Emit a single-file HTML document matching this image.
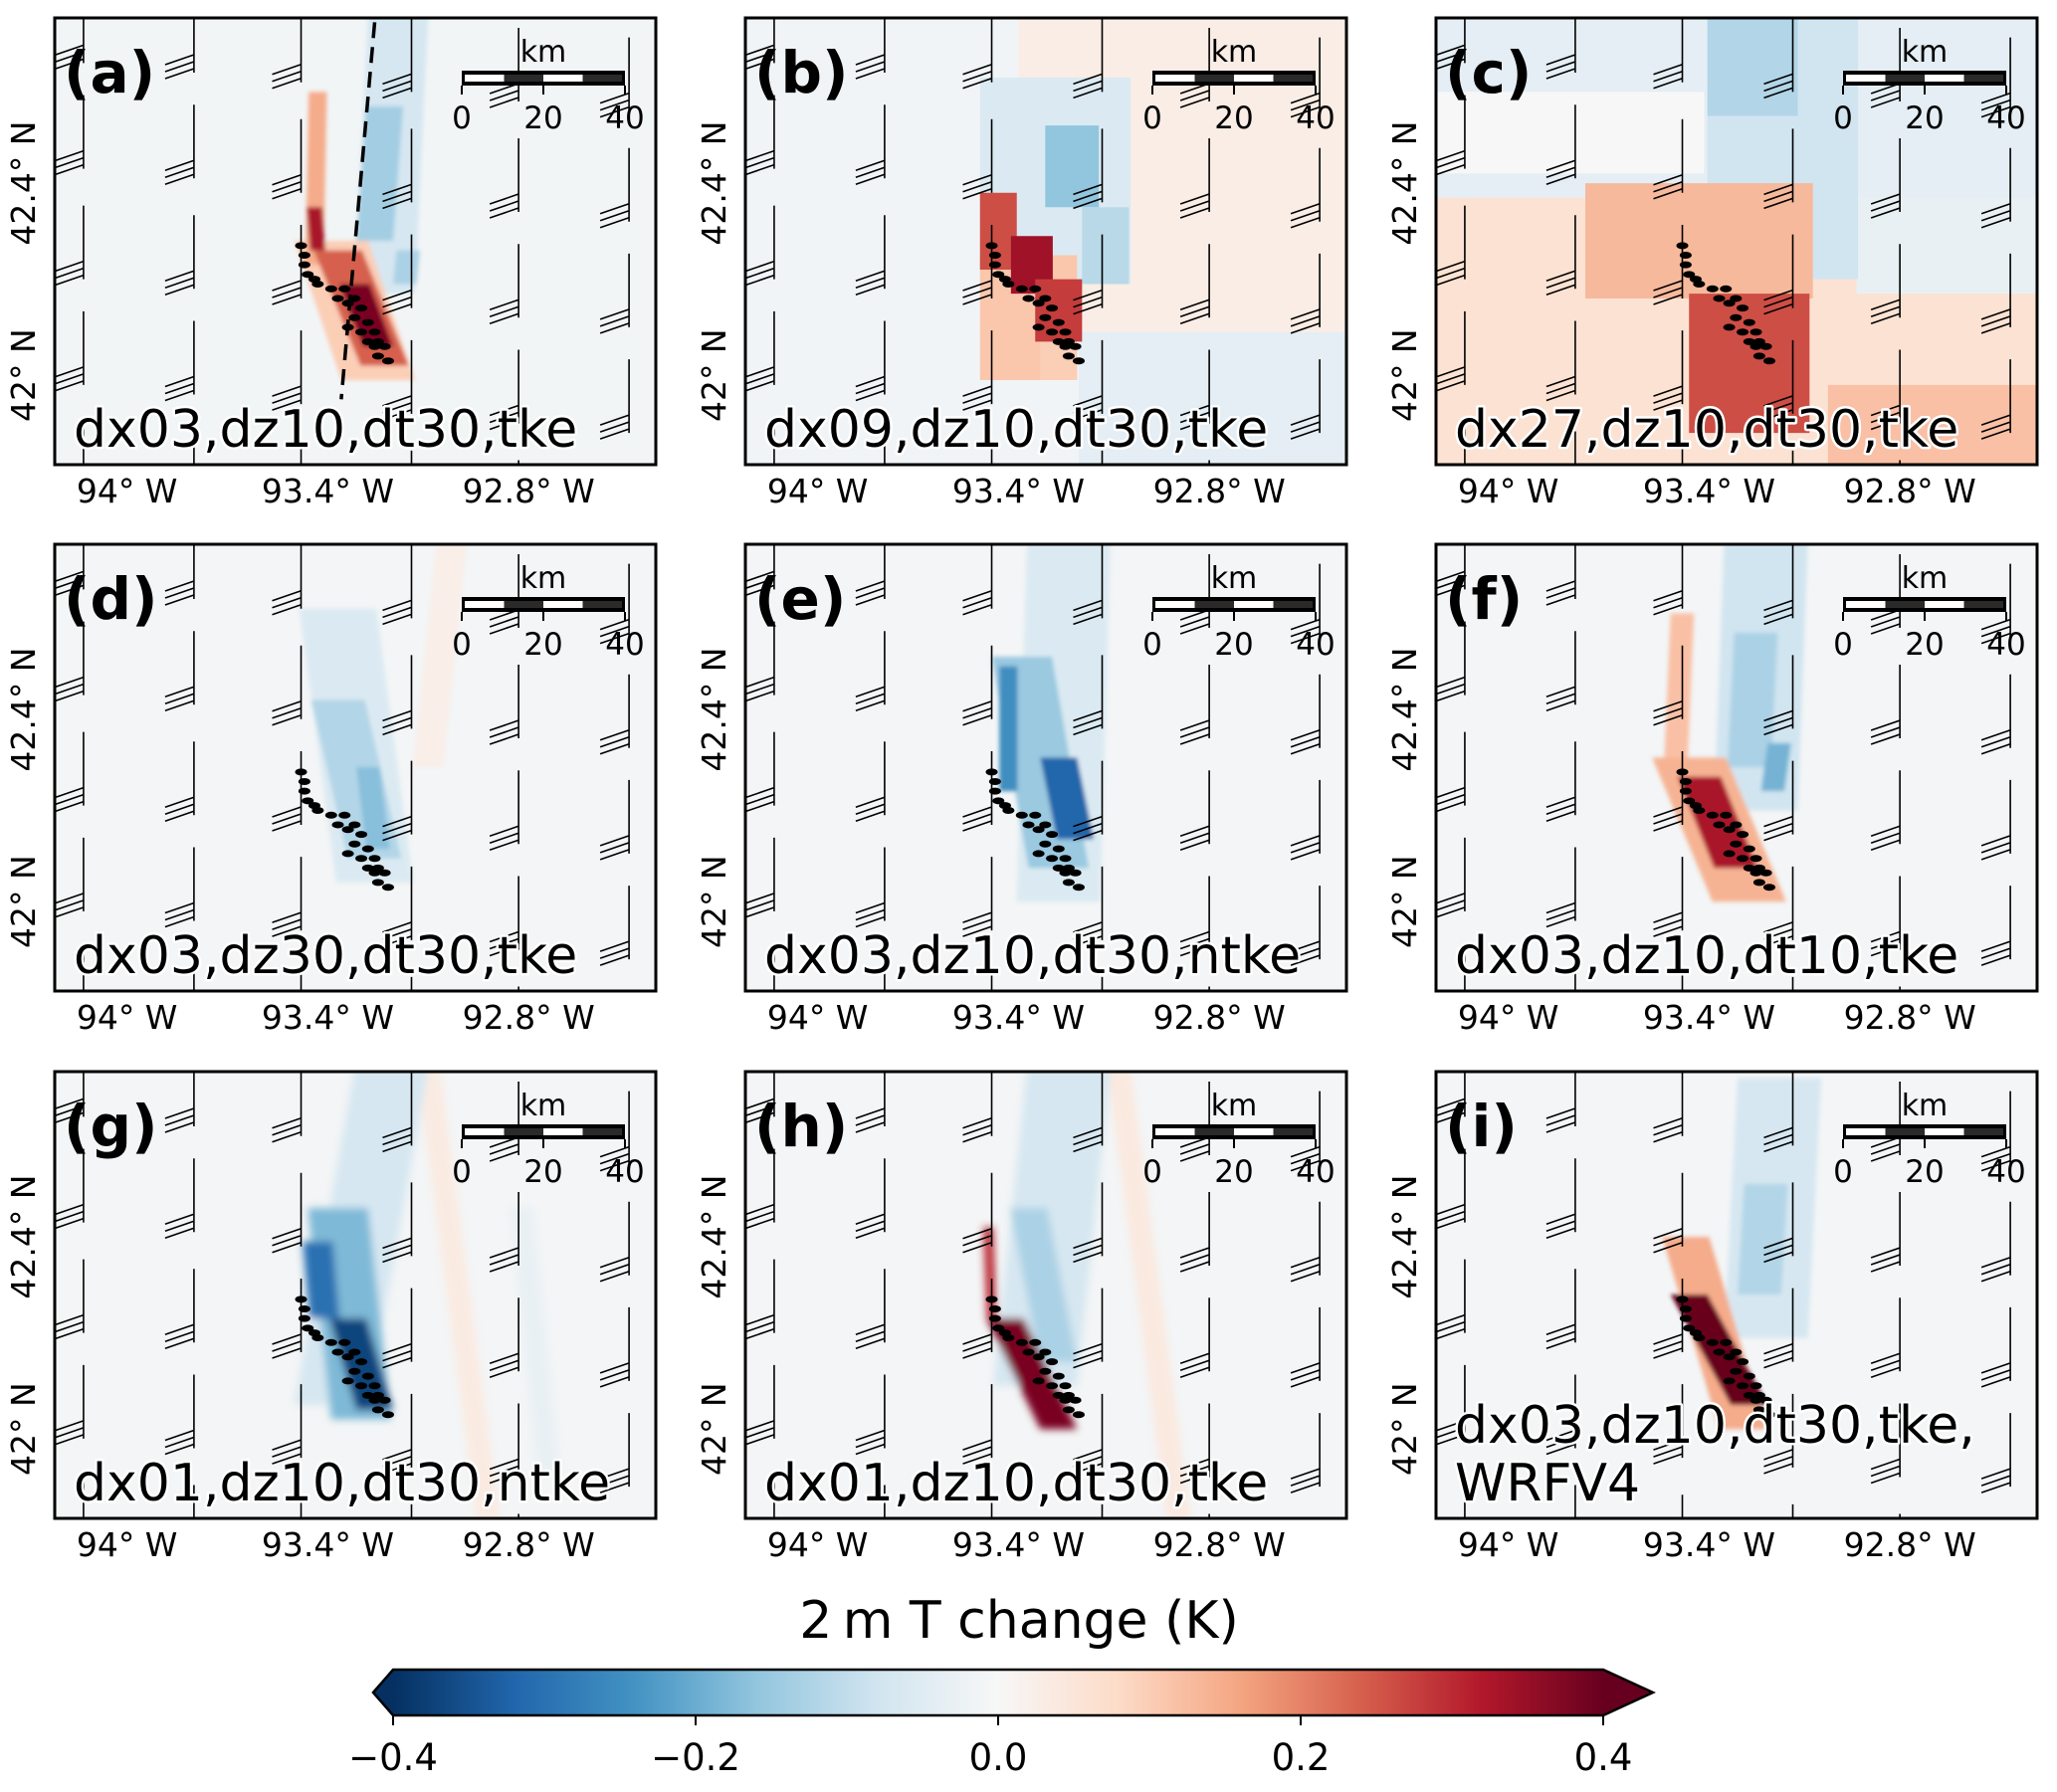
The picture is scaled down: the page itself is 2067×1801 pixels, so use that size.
<!DOCTYPE html>
<html><head><meta charset="utf-8">
<style>
html,body{margin:0;padding:0;background:#fff;}
svg{display:block;font-family:"DejaVu Sans","Liberation Sans",sans-serif;}
.halo{paint-order:stroke;stroke:#fff;stroke-width:5px;stroke-linejoin:round;}
</style></head>
<body>
<svg id="fig" width="2067" height="1801" viewBox="0 0 2067 1801" xmlns="http://www.w3.org/2000/svg">
<defs>
<filter id="soft" x="-5%" y="-5%" width="110%" height="110%"><feGaussianBlur stdDeviation="4"/></filter>
<filter id="soft2" x="-5%" y="-5%" width="110%" height="110%"><feGaussianBlur stdDeviation="2"/></filter>
<linearGradient id="cbgrad" x1="0" x2="1" y1="0" y2="0">
<stop offset="0" stop-color="#053061"/><stop offset="0.1" stop-color="#2166ac"/><stop offset="0.2" stop-color="#4393c3"/>
<stop offset="0.3" stop-color="#92c5de"/><stop offset="0.4" stop-color="#d1e5f0"/><stop offset="0.5" stop-color="#f7f7f7"/>
<stop offset="0.6" stop-color="#fddbc7"/><stop offset="0.7" stop-color="#f4a582"/><stop offset="0.8" stop-color="#d6604d"/>
<stop offset="0.9" stop-color="#b2182b"/><stop offset="1" stop-color="#67001f"/>
</linearGradient>
</defs>
<g id="root"></g>
</svg>
<script>
const panelIds = ["a","b","c","d","e","f","g","h","i"];
const panelTitles = ["dx03,dz10,dt30,tke","dx09,dz10,dt30,tke","dx27,dz10,dt30,tke","dx03,dz30,dt30,tke","dx03,dz10,dt30,ntke","dx03,dz10,dt10,tke","dx01,dz10,dt30,ntke","dx01,dz10,dt30,tke","dx03,dz10,dt30,tke,|WRFV4"];
const lonTicks = [-94, -93.4, -92.8];
const lonTickLabels = ["94° W","93.4° W","92.8° W"];
const latTicks = [42, 42.4];
const latTickLabels = ["42° N","42.4° N"];
const cbTicks = [-0.4, -0.2, 0.0, 0.2, 0.4];
const cbTickLabels = ["\u22120.4","\u22120.2","0.0","0.2","0.4"];
const scaleKm = [0, 20, 40];
const dotLon = [-93.48,-93.47,-93.47,-93.46,-93.44,-93.43,-93.39,-93.35,-93.37,-93.34,-93.32,-93.30,-93.32,-93.28,-93.34,-93.30,-93.26,-93.28,-93.25,-93.26,-93.23,-93.25,-93.22];
const dotLat = [42.27,42.25,42.23,42.21,42.20,42.19,42.18,42.18,42.16,42.15,42.16,42.14,42.12,42.11,42.10,42.09,42.09,42.07,42.07,42.06,42.06,42.04,42.03];
const barbLon = [-94.13,-94.13,-94.13,-94.13,-94.13,-93.80,-93.80,-93.80,-93.80,-93.80,-93.48,-93.48,-93.48,-93.48,-93.48,-93.15,-93.15,-93.15,-93.15,-93.15,-92.83,-92.83,-92.83,-92.83,-92.83,-92.50,-92.50,-92.50,-92.50,-92.50];
const barbLat = [42.65,42.43,42.20,41.98,41.75,42.63,42.41,42.18,41.96,41.73,42.61,42.38,42.16,41.94,41.71,42.59,42.36,42.14,41.92,41.69,42.57,42.34,42.12,41.90,41.67,42.55,42.32,42.10,41.88,41.65];
const dashLon = [-93.26, -93.36];
const dashLat = [42.735, 41.95];
const bgValue = [-0.01,-0.012,-0.01,-0.008,-0.008,-0.008,-0.008,-0.008,-0.008];
// strips: [lonTop, latTop, lonBottom, latBottom, widthDeg, value]
const stripsA = [[-93.19,42.75,-93.23,42.17,0.18,-0.07],[-93.23,42.56,-93.26,42.28,0.11,-0.14],[-93.16,42.26,-93.17,42.19,0.07,-0.13],[-93.39,42.28,-93.25,41.99,0.22,0.10],[-93.43,42.59,-93.44,42.23,0.054,0.15],[-93.44,42.35,-93.43,42.26,0.045,0.33],[-93.37,42.26,-93.23,42.02,0.144,0.24],[-93.32,42.19,-93.25,42.06,0.09,0.38]];
const stripsB = [[-92.9,42.75,-92.9,42.09,1.0,0.03],[-92.82,42.09,-92.82,41.81,0.8,-0.04],[-93.29,42.62,-93.29,42.19,0.45,-0.06],[-93.24,42.52,-93.24,42.35,0.16,-0.16],[-93.14,42.35,-93.14,42.19,0.14,-0.11],[-93.37,42.25,-93.37,41.99,0.29,0.11],[-93.46,42.38,-93.46,42.22,0.11,0.26],[-93.28,42.07,-93.28,41.99,0.11,0.10],[-93.36,42.29,-93.36,42.17,0.125,0.34],[-93.28,42.20,-93.28,42.07,0.14,0.28]];
const stripsC = [[-93.32,42.37,-93.32,41.81,1.9,0.06],[-93.32,42.75,-93.32,42.37,1.9,-0.04],[-92.69,42.37,-92.69,42.17,0.54,-0.03],[-93.82,42.59,-93.82,42.42,0.81,0.0],[-93.18,42.75,-93.18,42.2,0.45,-0.08],[-93.27,42.75,-93.27,42.54,0.27,-0.12],[-93.43,42.40,-93.43,42.16,0.68,0.13],[-93.28,42.17,-93.28,41.88,0.36,0.26],[-92.73,41.98,-92.73,41.81,0.63,0.12]];
const stripsD = [[-93.03,42.75,-93.10,42.28,0.09,0.025],[-93.37,42.61,-93.26,42.04,0.23,-0.06],[-93.37,42.42,-93.26,42.09,0.16,-0.12],[-93.28,42.28,-93.25,42.11,0.07,-0.17]];
const stripsE = [[-93.25,42.75,-93.28,42.0,0.25,-0.06],[-93.39,42.51,-93.28,42.07,0.18,-0.15],[-93.43,42.49,-93.43,42.23,0.054,-0.25],[-93.28,42.30,-93.23,42.13,0.11,-0.32]];
const stripsF = [[-93.23,42.75,-93.26,42.19,0.25,-0.08],[-93.26,42.56,-93.28,42.28,0.13,-0.13],[-93.19,42.33,-93.21,42.23,0.07,-0.19],[-93.48,42.60,-93.50,42.28,0.07,0.12],[-93.46,42.30,-93.28,42.0,0.22,0.14],[-93.43,42.26,-93.32,42.07,0.13,0.33]];
const stripsG = [[-93.10,42.75,-92.92,41.81,0.07,0.035],[-92.82,42.46,-92.74,41.91,0.07,-0.03],[-93.21,42.75,-93.39,42.05,0.22,-0.07],[-93.37,42.46,-93.30,42.02,0.18,-0.18],[-93.43,42.39,-93.41,42.23,0.09,-0.30],[-93.34,42.23,-93.26,42.04,0.11,-0.37]];
const stripsH = [[-93.10,42.75,-92.92,41.81,0.07,0.04],[-93.25,42.75,-93.35,42.09,0.25,-0.07],[-93.37,42.46,-93.28,42.14,0.11,-0.13],[-93.49,42.42,-93.48,42.23,0.03,0.30],[-93.44,42.23,-93.28,42.0,0.11,0.38]];
const stripsI = [[-93.19,42.73,-93.23,42.19,0.25,-0.07],[-93.23,42.51,-93.25,42.28,0.13,-0.12],[-93.47,42.40,-93.30,42.0,0.14,0.15],[-93.46,42.28,-93.28,42.05,0.11,0.40]];
const allStrips = [stripsA,stripsB,stripsC,stripsD,stripsE,stripsF,stripsG,stripsH,stripsI];

const NS = "http://www.w3.org/2000/svg";
const LON0 = -94.216, LON1 = -92.42, LAT0 = 41.814, LAT1 = 42.744;
const colX = [55, 749, 1443], rowY = [18, 547, 1077], PW = 604, PH = 449;
const cmapStops = ["#053061","#2166ac","#4393c3","#92c5de","#d1e5f0","#f7f7f7","#fddbc7","#f4a582","#d6604d","#b2182b","#67001f"];
function hex(c){return [parseInt(c.slice(1,3),16),parseInt(c.slice(3,5),16),parseInt(c.slice(5,7),16)];}
function cmap(v){
  let t = Math.max(0, Math.min(1, (v + 0.4) / 0.8)) * 10;
  const i = Math.min(9, Math.floor(t)), f = t - i;
  const a = hex(cmapStops[i]), b = hex(cmapStops[i+1]);
  return "rgb(" + a.map((x,k)=>Math.round(x + (b[k]-x)*f)).join(",") + ")";
}
function mk(tag, attrs, parent){
  const e = document.createElementNS(NS, tag);
  for (const k in attrs) e.setAttribute(k, attrs[k]);
  parent.appendChild(e);
  return e;
}
const root = document.getElementById("root");

panelIds.forEach((pid, p) => {
  const px = colX[p % 3], py = rowY[Math.floor(p / 3)];
  const X = lon => px + (lon - LON0) / (LON1 - LON0) * PW;
  const Y = lat => py + (LAT1 - lat) / (LAT1 - LAT0) * PH;
  const g = mk("g", {}, root);
  
  
  const clip = mk("clipPath", {id: "clip" + pid}, g);
  mk("rect", {x: px, y: py, width: PW, height: PH}, clip);
  const inner = mk("g", {"clip-path": "url(#clip" + pid + ")"}, g);
  const bg = mk("rect", {x: px, y: py, width: PW, height: PH, fill: cmap(bgValue[p])}, inner);
  
  
  let fattr = {};
  if (pid === "g" || pid === "h") fattr = {filter: "url(#soft)"};
  else if (pid !== "b" && pid !== "c") fattr = {filter: "url(#soft2)"};
  const field = mk("g", fattr, inner);
  
  
  allStrips[p].forEach(s => {
    const wpx = s[4] / (LON1 - LON0) * PW;
    const x1 = X(s[0]), y1 = Y(s[1]), x2 = X(s[2]), y2 = Y(s[3]);
    const poly = mk("polygon", {points: [x1-wpx/2, y1, x1+wpx/2, y1, x2+wpx/2, y2, x2-wpx/2, y2].join(" "), fill: cmap(s[5])}, field);
    
    
  });
  const barbs = mk("g", {stroke: "#000", "stroke-width": 1.6, fill: "none"}, inner);
  
  
  barbLon.forEach((lo, k) => {
    const sx = X(lo), sy = Y(barbLat[k]);
    let d = "M" + sx + " " + sy + " V" + (sy - 74);
    for (let j = 0; j < 3; j++) d += " M" + sx + " " + (sy - 4 - j * 7) + " L" + (sx - 29) + " " + (sy + 6 - j * 7);
    const b = mk("path", {d: d}, barbs);
    
    
  });
  if (pid === "a") {
    const dl = mk("line", {x1: X(dashLon[0]), y1: Y(dashLat[0]), x2: X(dashLon[1]), y2: Y(dashLat[1]), stroke: "#000", "stroke-width": 3.5, "stroke-dasharray": "16 9"}, inner);
    
    
  }
  const dots = mk("g", {fill: "#000"}, inner);
  
  
  dotLon.forEach((lo, k) => {
    const d = mk("ellipse", {cx: X(lo), cy: Y(dotLat[k]), rx: 6, ry: 3.5}, dots);
    
    
  });
  const sb = mk("g", {}, g);
  
  
  const sbx = px + 409, sbw = 164, sby = py + 53;
  const km = mk("text", {x: sbx + sbw/2, y: py + 44, "font-size": 30, "text-anchor": "middle"}, sb);
  km.textContent = "km";
  mk("rect", {x: sbx, y: sby, width: sbw, height: 15, fill: "#000"}, sb);
  for (let j = 0; j < 4; j++) mk("rect", {x: sbx + 3 + j * (sbw - 6) / 4, y: sby + 4, width: (sbw - 6) / 4, height: 7, fill: j % 2 ? "#2a2a2a" : "#fff"}, sb);
  scaleKm.forEach((v, j) => {
    const tx = sbx + v / 40 * sbw;
    mk("line", {x1: tx, y1: sby + 15, x2: tx, y2: sby + 24, stroke: "#000", "stroke-width": 2}, sb);
    const t = mk("text", {x: tx, y: py + 111, "font-size": 31, "text-anchor": "middle"}, sb);
    t.textContent = v;
  });
  const pl = mk("text", {x: px + 9, y: py + 75, "font-size": 58, "font-weight": "bold"}, g);
  pl.textContent = "(" + pid + ")";
  
  
  const lines = panelTitles[p].split("|");
  lines.forEach((ln, j) => {
    const t = mk("text", {x: px + 19, y: py + PH - 18 - (lines.length - 1 - j) * 58, "font-size": 52, class: "halo"}, g);
    t.textContent = ln;
    
    
  });
  const fr = mk("rect", {x: px, y: py, width: PW, height: PH, fill: "none", stroke: "#000", "stroke-width": 3}, g);
  
  
  lonTicks.forEach((v, j) => {
    const t = mk("text", {x: X(v), y: py + PH + 38, "font-size": 33, "text-anchor": "middle"}, g);
    t.textContent = lonTickLabels[j];
    
    
  });
  latTicks.forEach((v, j) => {
    const cy = Y(v), cx = px - 20;
    const t = mk("text", {x: cx, y: cy, "font-size": 33, "text-anchor": "middle", transform: "rotate(-90 " + cx + " " + cy + ")"}, g);
    t.textContent = latTickLabels[j];
    
    
  });
});

const CB0 = 395, CB1 = 1611, CBY = 1678, CBH = 46;
const CX = v => CB0 + (v - cbTicks[0]) / (cbTicks[cbTicks.length-1] - cbTicks[0]) * (CB1 - CB0);
const cb = mk("g", {}, root);


const ttl = mk("text", {x: 1024, y: 1646, "font-size": 52, "text-anchor": "middle"}, cb);
ttl.textContent = "2\u2009m T change (K)";


mk("polygon", {points: [CB0+1, CBY, CB0+1, CBY+CBH, 375, CBY+CBH/2].join(" "), fill: "#053061"}, cb);
mk("polygon", {points: [CB1-1, CBY, CB1-1, CBY+CBH, 1661, CBY+CBH/2].join(" "), fill: "#67001f"}, cb);
mk("rect", {x: CB0, y: CBY, width: CB1 - CB0, height: CBH, fill: "url(#cbgrad)"}, cb);
mk("polygon", {points: [375, CBY+CBH/2, CB0, CBY, CB1, CBY, 1661, CBY+CBH/2, CB1, CBY+CBH, CB0, CBY+CBH].join(" "), fill: "none", stroke: "#000", "stroke-width": 2.5}, cb);
cbTicks.forEach((v, j) => {
  mk("line", {x1: CX(v), y1: CBY + CBH, x2: CX(v), y2: CBY + CBH + 10, stroke: "#000", "stroke-width": 2}, cb);
  const t = mk("text", {x: CX(v), y: 1779, "font-size": 37, "text-anchor": "middle"}, cb);
  t.textContent = cbTickLabels[j];
  
  
});
</script>
</body></html>
